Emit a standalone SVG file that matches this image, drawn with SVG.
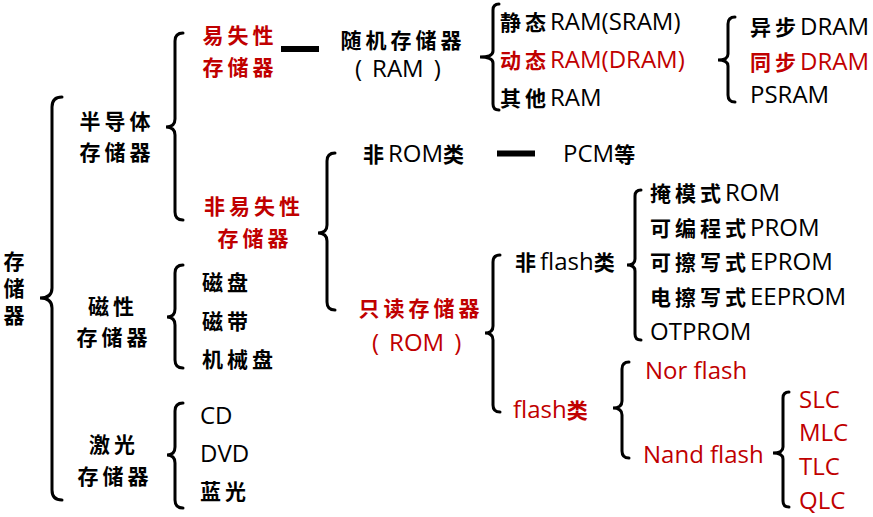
<svg xmlns="http://www.w3.org/2000/svg" width="873" height="517" viewBox="0 0 873 517">
<style>
.t{font-family:"Open Sans","Noto Sans CJK SC",sans-serif;font-size:24px;fill:#000}
.r{fill:#c00000}
.c{font-family:"Noto Sans CJK SC",sans-serif;font-weight:bold;font-size:21px;letter-spacing:4px}
.m{text-anchor:middle}
.v{writing-mode:vertical-rl;letter-spacing:6px}
.br{fill:none;stroke:#000;stroke-width:3;stroke-linecap:round}
.dash{stroke:#000;stroke-width:6}
</style>
<rect width="873" height="517" fill="#fff"/>
<g id="connectors">
<path class="br" d="M62,97 Q52,97 52,107 L52,288 Q52,298 40,298 Q52,298 52,308 L52,490 Q52,500 62,500"/>
<path class="br" d="M183,33 Q175,33 175,41 L175,119 Q175,127 166,127 Q175,127 175,135 L175,212 Q175,220 183,220"/>
<path class="br" d="M499,4 Q493,4 493,10 L493,51 Q493,57 480,57 Q493,57 493,63 L493,104 Q493,110 499,110"/>
<path class="br" d="M735,17 Q728,17 728,24 L728,54 Q728,60 718,60 Q728,60 728,66 L728,95 Q728,102 735,102"/>
<path class="br" d="M335,153 Q327,153 327,161 L327,225 Q327,233 318,233 Q327,233 327,241 L327,302 Q327,310 335,310"/>
<path class="br" d="M500,255 Q493,255 493,262 L493,326 Q493,333 485,333 Q493,333 493,340 L493,405 Q493,412 500,412"/>
<path class="br" d="M641,190 Q635,190 635,196 L635,259 Q635,265 627,265 Q635,265 635,271 L635,334 Q635,340 641,340"/>
<path class="br" d="M629,362 Q622,362 622,369 L622,401 Q622,408 613,408 Q622,408 622,415 L622,451 Q622,458 629,458"/>
<path class="br" d="M789,392 Q783,392 783,398 L783,447 Q783,453 773,453 Q783,453 783,459 L783,501 Q783,507 789,507"/>
<path class="br" d="M183,265 Q175,265 175,273 L175,309 Q175,317 167,317 Q175,317 175,325 L175,360 Q175,368 183,368"/>
<path class="br" d="M183,403 Q175,403 175,411 L175,447 Q175,455 167,455 Q175,455 175,463 L175,500 Q175,508 183,508"/>
<line class="dash" x1="281" y1="49" x2="319" y2="49"/>
<line class="dash" x1="497" y1="153.5" x2="535" y2="153.5"/>
</g>
<g id="root">
<text class="c v" x="14" y="251">存储器</text>
</g>
<g id="semiconductor">
<text class="c m" x="117" y="129">半导体</text>
<text class="c m" x="117" y="160">存储器</text>
</g>
<g id="volatile">
<text class="c m r" x="240" y="43">易失性</text>
<text class="c m r" x="240" y="75">存储器</text>
</g>
<g id="ram">
<text class="c m" x="403" y="48">随机存储器</text>
<text class="t" x="355" y="77">(<tspan dx="10">RAM</tspan><tspan dx="10">)</tspan></text>
</g>
<g id="sram"><text class="t" x="500" y="30"><tspan class="c">静态</tspan>RAM(SRAM)</text></g>
<g id="dram"><text class="t r" x="500" y="68"><tspan class="c">动态</tspan>RAM(DRAM)</text></g>
<g id="other-ram"><text class="t" x="500" y="106"><tspan class="c">其他</tspan>RAM</text></g>
<g id="async-dram"><text class="t" x="750" y="35"><tspan class="c">异步</tspan>DRAM</text></g>
<g id="sync-dram"><text class="t r" x="750" y="70"><tspan class="c">同步</tspan>DRAM</text></g>
<g id="psram"><text class="t" x="750" y="103">PSRAM</text></g>
<g id="nonvolatile">
<text class="c m r" x="254" y="214">非易失性</text>
<text class="c m r" x="255" y="246">存储器</text>
</g>
<g id="non-rom"><text class="t" x="363" y="162"><tspan class="c">非</tspan>ROM<tspan class="c">类</tspan></text></g>
<g id="pcm"><text class="t" x="563" y="162">PCM<tspan class="c">等</tspan></text></g>
<g id="rom">
<text class="c m r" x="421" y="316">只读存储器</text>
<text class="t r" x="372" y="351">(<tspan dx="10">ROM</tspan><tspan dx="10">)</tspan></text>
</g>
<g id="non-flash"><text class="t" x="515" y="270"><tspan class="c">非</tspan>flash<tspan class="c">类</tspan></text></g>
<g id="flash"><text class="t r" x="513" y="418">flash<tspan class="c">类</tspan></text></g>
<g id="mask-rom"><text class="t" x="650" y="201"><tspan class="c">掩模式</tspan>ROM</text></g>
<g id="prom"><text class="t" x="650" y="236"><tspan class="c">可编程式</tspan>PROM</text></g>
<g id="eprom"><text class="t" x="650" y="270"><tspan class="c">可擦写式</tspan>EPROM</text></g>
<g id="eeprom"><text class="t" x="650" y="305"><tspan class="c">电擦写式</tspan>EEPROM</text></g>
<g id="otprom"><text class="t" x="650" y="340">OTPROM</text></g>
<g id="nor"><text class="t r" x="645" y="379">Nor flash</text></g>
<g id="nand"><text class="t r" x="643" y="463">Nand flash</text></g>
<g id="slc"><text class="t r" x="799" y="408">SLC</text></g>
<g id="mlc"><text class="t r" x="799" y="441">MLC</text></g>
<g id="tlc"><text class="t r" x="799" y="475">TLC</text></g>
<g id="qlc"><text class="t r" x="799" y="509">QLC</text></g>
<g id="magnetic">
<text class="c m" x="113" y="314">磁性</text>
<text class="c m" x="114" y="345">存储器</text>
</g>
<g id="disk"><text class="c" x="202" y="290">磁盘</text></g>
<g id="tape"><text class="c" x="202" y="329">磁带</text></g>
<g id="hdd"><text class="c" x="202" y="367">机械盘</text></g>
<g id="optical">
<text class="c m" x="114" y="452">激光</text>
<text class="c m" x="115" y="484">存储器</text>
</g>
<g id="cd"><text class="t" x="200" y="424">CD</text></g>
<g id="dvd"><text class="t" x="200" y="462">DVD</text></g>
<g id="bluray"><text class="c" x="200" y="499">蓝光</text></g>
</svg>
